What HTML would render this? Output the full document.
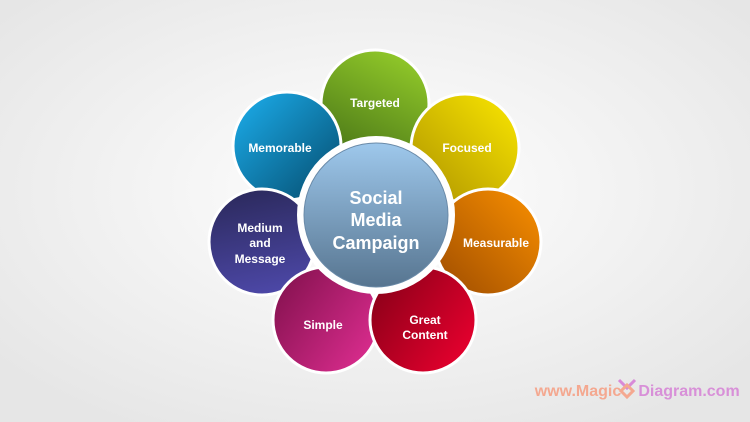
<!DOCTYPE html>
<html><head><meta charset="utf-8"><style>
html,body{margin:0;padding:0;width:750px;height:422px;overflow:hidden;background:#f4f4f4}
svg{display:block}
text{font-family:"Liberation Sans",sans-serif;font-weight:bold;fill:#fff;text-anchor:middle}
</style></head><body>
<svg width="750" height="422" viewBox="0 0 750 422">
<defs>
<radialGradient id="bg" cx="50%" cy="45%" r="65%"><stop offset="0" stop-color="#ffffff"/><stop offset="1" stop-color="#e6e6e6"/></radialGradient>
<linearGradient id="gT" x1="0.8" y1="0" x2="0.3" y2="1"><stop offset="0" stop-color="#94cc2a"/><stop offset="1" stop-color="#4d7a18"/></linearGradient>
<linearGradient id="gF" x1="0.9" y1="0.1" x2="0.1" y2="0.9"><stop offset="0" stop-color="#f4e000"/><stop offset="1" stop-color="#b49a00"/></linearGradient>
<linearGradient id="gMe" x1="1" y1="0.2" x2="0.2" y2="1"><stop offset="0" stop-color="#f28a00"/><stop offset="1" stop-color="#a65200"/></linearGradient>
<linearGradient id="gG" x1="1" y1="0.9" x2="0" y2="0.2"><stop offset="0" stop-color="#ee0030"/><stop offset="1" stop-color="#8a0018"/></linearGradient>
<linearGradient id="gS" x1="1" y1="0.9" x2="0" y2="0.2"><stop offset="0" stop-color="#e02e92"/><stop offset="1" stop-color="#861250"/></linearGradient>
<linearGradient id="gMM" x1="0.4" y1="0" x2="0.6" y2="1"><stop offset="0" stop-color="#2c2a5e"/><stop offset="1" stop-color="#4d48a8"/></linearGradient>
<linearGradient id="gMb" x1="0.1" y1="0.1" x2="0.9" y2="0.9"><stop offset="0" stop-color="#1aa6e2"/><stop offset="1" stop-color="#075478"/></linearGradient>
<linearGradient id="gC" x1="0" y1="0" x2="0" y2="1"><stop offset="0" stop-color="#9ec8ec"/><stop offset="1" stop-color="#577590"/></linearGradient>
</defs>
<rect width="750" height="422" fill="url(#bg)"/>
<g stroke="#fff" stroke-width="3">
<circle cx="375" cy="104" r="54" fill="url(#gT)"/>
<circle cx="287" cy="146" r="54" fill="url(#gMb)"/>
<circle cx="465" cy="148" r="54" fill="url(#gF)"/>
<circle cx="488" cy="242" r="53" fill="url(#gMe)"/>
<circle cx="262" cy="242" r="53" fill="url(#gMM)"/>
<circle cx="326" cy="320" r="53" fill="url(#gS)"/>
<circle cx="423" cy="320" r="53" fill="url(#gG)"/>
</g>
<circle cx="376" cy="215" r="79" fill="#fff"/>
<circle cx="376" cy="215" r="72" fill="url(#gC)" stroke="#6a8aa8" stroke-width="1"/>
<g font-size="12">
<text x="375" y="107">Targeted</text>
<text x="280" y="152">Memorable</text>
<text x="467" y="152">Focused</text>
<text x="496" y="247">Measurable</text>
<text x="260" y="232">Medium</text>
<text x="260" y="247">and</text>
<text x="260" y="263">Message</text>
<text x="323" y="329">Simple</text>
<text x="425" y="324">Great</text>
<text x="425" y="339">Content</text>
</g>
<g font-size="18">
<text x="376" y="204">Social</text>
<text x="376" y="226">Media</text>
<text x="376" y="249">Campaign</text>
</g>
<text x="578" y="396" font-size="16" style="fill:#f4a890">www.Magic</text>
<g transform="translate(627,388)" fill="none" stroke-width="3">
<path d="M-8,-8 L0,0 L8,-8" stroke="#d88ad8"/>
<path d="M-6,3 L0,9 L6,3 L0,-3 Z" stroke="#f4a890"/>
</g>
<text x="689" y="396" font-size="16" style="fill:#d890d8">Diagram.com</text>
</svg>
</body></html>
